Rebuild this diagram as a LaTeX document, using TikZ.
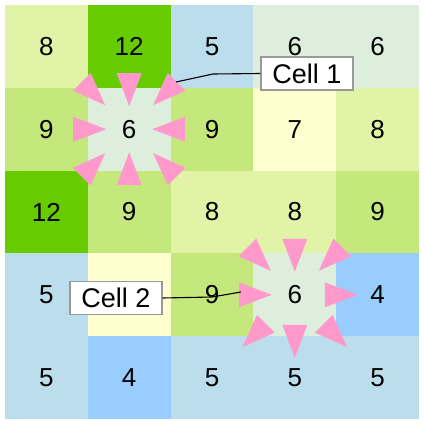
\documentclass[tikz,border=0pt]{standalone}
\usepackage{fontspec}
\setmainfont{Liberation Sans}
\definecolor{v4}{HTML}{99CCFF}
\definecolor{v5}{HTML}{BBDDEC}
\definecolor{v6}{HTML}{DDEEDD}
\definecolor{v7}{HTML}{FFFFD0}
\definecolor{v8}{HTML}{E1F3A6}
\definecolor{v9}{HTML}{C5E87D}
\definecolor{v12}{HTML}{66CC00}
\definecolor{flowpink}{HTML}{FF99CC}
\definecolor{boxgray}{HTML}{999999}
\tikzset{
  cellbox/.style={minimum size=82.8pt, inner sep=0pt, outer sep=0pt, draw=none, font=\fontsize{26}{26}\selectfont},
  flowtri/.style={fill=flowpink, draw=none},
  calloutbox/.style={draw=boxgray, line width=1.3pt, fill=white, minimum width=92pt, minimum height=33pt, inner sep=0pt, font=\fontsize{27}{27}\selectfont},
  leader/.style={draw=black, line width=1.1pt}
}
\begin{document}
\begin{tikzpicture}[x=1pt,y=1pt]
\useasboundingbox[fill=white] (0,0) rectangle (423,-425);
% grid of cells
\foreach \v [count=\i from 0] in {8,12,5,6,6, 9,6,9,7,8, 12,9,8,8,9, 5,7,9,6,4, 5,4,5,5,5} {
  \pgfmathtruncatemacro{\r}{int(\i/5)}
  \pgfmathtruncatemacro{\c}{mod(\i,5)}
  \node[cellbox, fill=v\v] (c\r\c) at ({46.4+82.8*\c},{-(46.4+82.8*\r)}) {\ifnum\i=16\relax\else\v\fi};
}
% flow arrows: angle / base radius / tip radius
\foreach \a/\rb/\rt in {0/56/23, 45/67/34, 90/56/23, 135/67/34, 180/56/23, 225/67/34, 270/56/23, 315/67/34} {
  \begin{scope}[shift={(c11.center)}, rotate=\a]
    \fill[flowtri] (\rb,12.5) -- (\rb,-12.5) -- (\rt,0) -- cycle;
  \end{scope}
}
\foreach \a/\rb/\rt in {0/30/63, 45/67/34, 90/56/23, 135/67/34, 180/56/23, 225/41/74, 270/30/63, 315/41/74} {
  \begin{scope}[shift={(c33.center)}, rotate=\a]
    \fill[flowtri] (\rb,12.5) -- (\rb,-12.5) -- (\rt,0) -- cycle;
  \end{scope}
}
% callout boxes
\node[calloutbox] (lab1) at (307,-73.5) {Cell 1};
\node[calloutbox] (lab2) at (116,-298) {Cell 2};
% leader lines
\coordinate (end1) at (176,-82);
\coordinate (end2) at (241,-292);
\draw[leader] (lab1.west) -- (213,-74) -- (end1);
\draw[leader] (lab2.east) -- (212,-297) -- (end2);
\end{tikzpicture}
\end{document}
